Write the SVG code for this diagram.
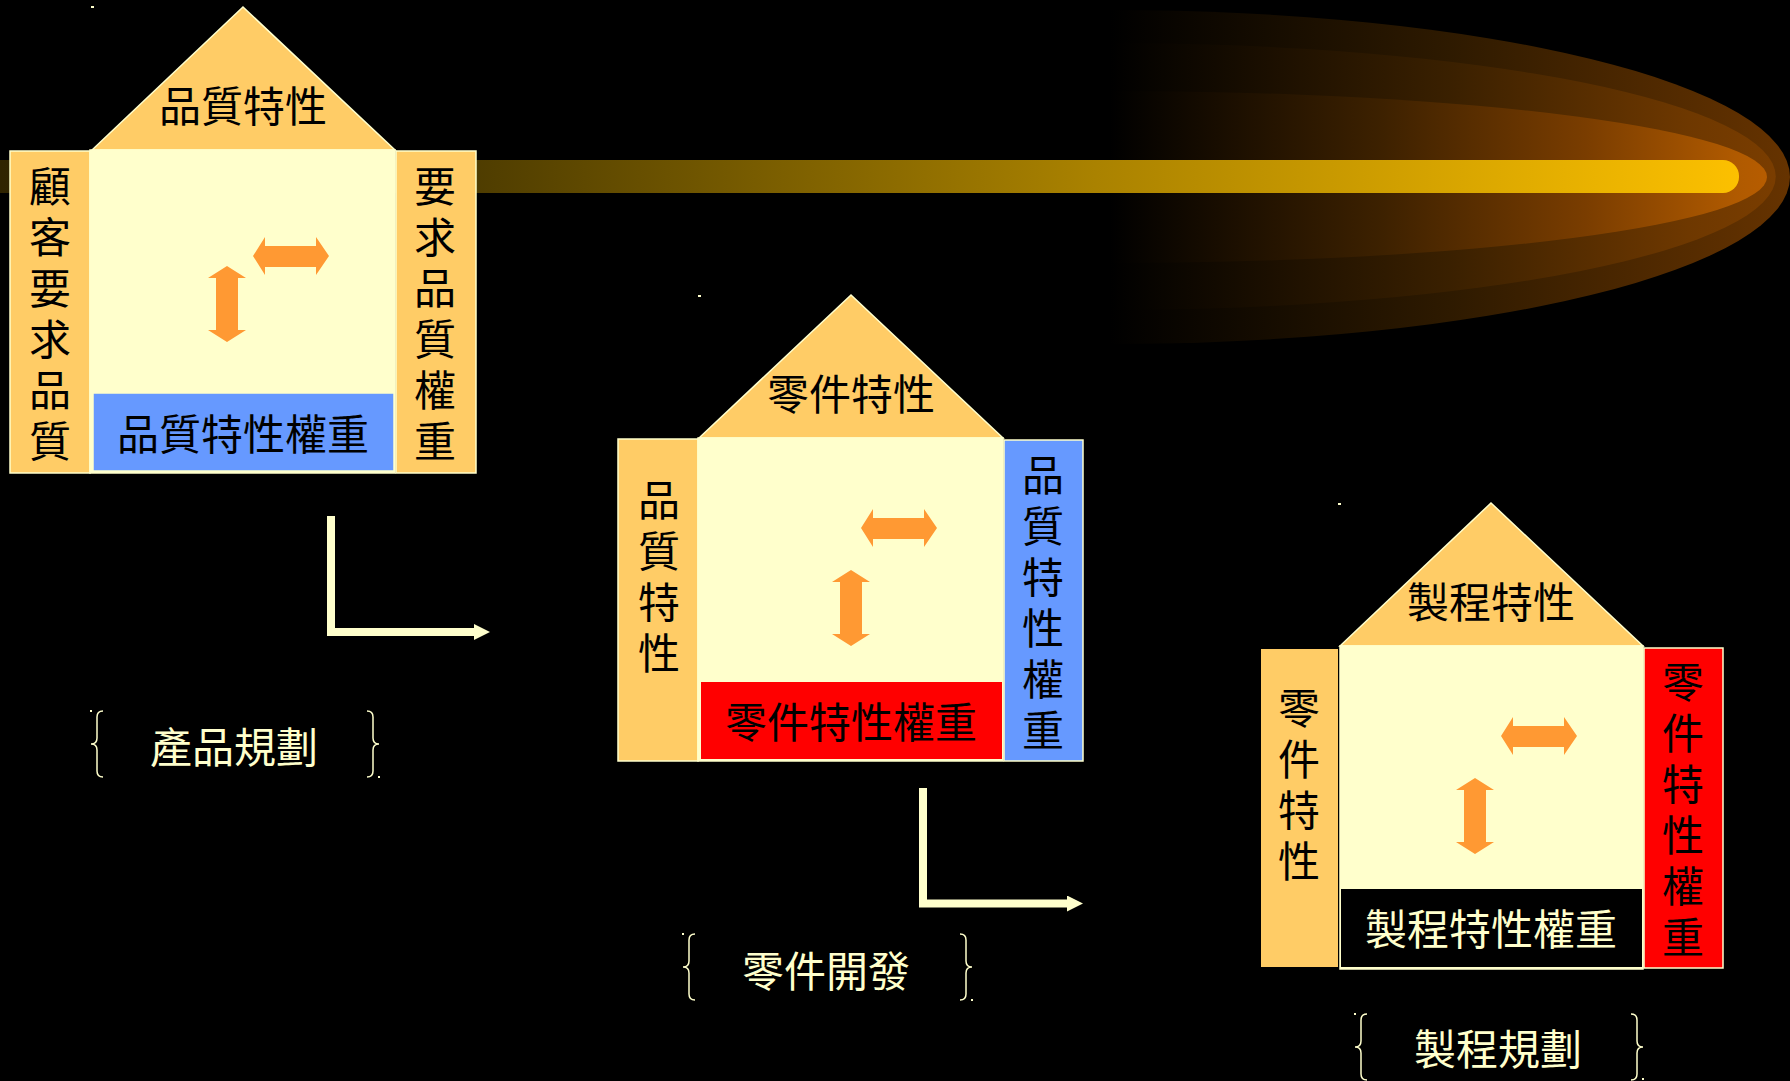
<svg xmlns="http://www.w3.org/2000/svg" xmlns:xlink="http://www.w3.org/1999/xlink" width="1790" height="1081" viewBox="0 0 1790 1081">
  <style>
    .roof, .side { fill: #FFCC66; stroke: #FFFFCC; stroke-width: 1.5; }
    .side-plain { fill: #FFCC66; }
    .core { fill: #FFFFCC; stroke: #FFFFCC; stroke-width: 1.5; }
    .blue { fill: #6699FF; stroke: #FFFFCC; stroke-width: 1.5; }
    .red { fill: #FF0000; }
    .red-col { fill: #FF0000; stroke: #FFFFCC; stroke-width: 1.5; }
    .dark { fill: #000000; }
    .t { font-family: "Noto Sans CJK TC", "Noto Sans CJK SC", sans-serif; font-size: 42px; text-anchor: middle; dominant-baseline: central; fill: #000000; }
    .v { writing-mode: vertical-rl; text-anchor: start; letter-spacing: 9px; }
    .lt { fill: #FFFFCC; }
    .dbl { fill: #FF9933; }
    .brace { fill: none; stroke: #FFFFCC; stroke-width: 1.5; }
    .flow { fill: none; stroke: #FFFFCC; stroke-width: 8; stroke-linejoin: miter; }
    .dot { fill: #FFFFCC; }
  </style>
  <defs>
    <linearGradient id="glowOuter" gradientUnits="userSpaceOnUse" x1="1110" y1="0" x2="1790" y2="0">
      <stop offset="0" stop-color="#000000"/>
      <stop offset="0.5" stop-color="#2e1a00"/>
      <stop offset="1" stop-color="#663300"/>
    </linearGradient>
    <linearGradient id="glowMid" gradientUnits="userSpaceOnUse" x1="1110" y1="0" x2="1790" y2="0">
      <stop offset="0" stop-color="#000000"/>
      <stop offset="0.5" stop-color="#3a2000"/>
      <stop offset="0.85" stop-color="#6e3800"/>
      <stop offset="1" stop-color="#7c3e00"/>
    </linearGradient>
    <linearGradient id="glowInner" gradientUnits="userSpaceOnUse" x1="1110" y1="0" x2="1790" y2="0">
      <stop offset="0" stop-color="#000000"/>
      <stop offset="0.4" stop-color="#3d2100"/>
      <stop offset="0.7" stop-color="#7a3d00"/>
      <stop offset="0.92" stop-color="#b05a00"/>
      <stop offset="1" stop-color="#bb5e00"/>
    </linearGradient>
    <linearGradient id="beam" gradientUnits="userSpaceOnUse" x1="0" y1="0" x2="1739" y2="0">
      <stop offset="0" stop-color="#302400"/>
      <stop offset="0.27" stop-color="#4e3c00"/>
      <stop offset="0.63" stop-color="#aa8200"/>
      <stop offset="0.9" stop-color="#e6b000"/>
      <stop offset="1" stop-color="#fcc000"/>
    </linearGradient>
    <!-- double-headed arrows inside each house -->
    <polygon id="harrow" class="dbl" points="0,19 12,0 12,9 63,9 63,0 76,19 63,38 63,30 12,30 12,38"/>
    <polygon id="varrow" class="dbl" points="19,0 38,12 30,12 30,64 38,64 19,76 0,64 8,64 8,12 0,12"/>
    <!-- curly braces around stage labels -->
    <path id="braceL" class="brace" d="M12,0 Q6,0 6,6 L6,27 Q6,33 0,33 Q6,33 6,39 L6,60 Q6,66 12,66"/>
    <path id="braceR" class="brace" d="M0,0 Q6,0 6,6 L6,27 Q6,33 12,33 Q6,33 6,39 L6,60 Q6,66 0,66"/>
    <marker id="head" markerUnits="userSpaceOnUse" markerWidth="16" markerHeight="16" viewBox="0 0 16 16" refX="2" refY="8" orient="auto">
      <path d="M0,0 L16,8 L0,16 Z" fill="#FFFFCC"/>
    </marker>
  </defs>

  <rect width="1790" height="1081" fill="#000000"/>

  <!-- comet glow and beam -->
  <g id="comet">
    <path d="M1110,10 A680,167 0 0 1 1110,344 Z" fill="url(#glowOuter)"/>
    <path d="M1110,43 A666,133.5 0 0 1 1110,310 Z" fill="url(#glowMid)"/>
    <path d="M1110,91 A657,86 0 0 1 1110,263 Z" fill="url(#glowInner)"/>
    <rect x="-20" y="160" width="1759" height="33" rx="16" fill="url(#beam)"/>
  </g>

  <!-- house 1: product planning -->
  <g id="house-product">
    <polygon class="roof" points="92,150 243,7 395,150"/>
    <rect class="side" x="10" y="151" width="80" height="322"/>
    <rect class="core" x="90" y="150" width="305" height="323"/>
    <rect class="side" x="396" y="151" width="80" height="322"/>
    <rect class="blue" x="93" y="393" width="301" height="78" stroke="none"/>
    <use xlink:href="#harrow" x="253" y="237"/>
    <use xlink:href="#varrow" x="208" y="266"/>
    <text class="t" x="243" y="103">品質特性</text>
    <text class="t" x="243" y="431">品質特性權重</text>
    <text class="t v" x="50" y="165">顧客要求品質</text>
    <text class="t v" x="435" y="165">要求品質權重</text>
    <rect class="dot" x="91" y="6" width="3" height="2"/>
  </g>

  <!-- house 2: part deployment -->
  <g id="house-part">
    <polygon class="roof" points="699,438 851,295 1003,438"/>
    <rect class="side" x="618" y="439" width="80" height="322"/>
    <rect class="core" x="698" y="438" width="305" height="323"/>
    <rect class="blue" x="1004" y="440" width="79" height="321"/>
    <rect class="red" x="701" y="682" width="301" height="77"/>
    <use xlink:href="#harrow" x="861" y="509"/>
    <use xlink:href="#varrow" x="832" y="570"/>
    <text class="t" x="851" y="391">零件特性</text>
    <text class="t" x="851" y="719">零件特性權重</text>
    <text class="t v" x="659" y="479">品質特性</text>
    <text class="t v" x="1043" y="454">品質特性權重</text>
    <rect class="dot" x="698" y="295" width="3" height="2"/>
  </g>

  <!-- house 3: process planning -->
  <g id="house-process">
    <polygon class="roof" points="1340,646 1491,503 1643,646"/>
    <rect class="side-plain" x="1261" y="649" width="77" height="318"/>
    <rect class="core" x="1340" y="646" width="303" height="323"/>
    <rect class="red-col" x="1644" y="648" width="79" height="320"/>
    <rect class="dark" x="1341" y="889" width="301" height="78"/>
    <use xlink:href="#harrow" x="1501" y="717"/>
    <use xlink:href="#varrow" x="1456" y="778"/>
    <text class="t" x="1491" y="599">製程特性</text>
    <text class="t lt" x="1491" y="926">製程特性權重</text>
    <text class="t v" x="1299" y="687">零件特性</text>
    <text class="t v" x="1683" y="661">零件特性權重</text>
    <rect class="dot" x="1338" y="503" width="3" height="2"/>
  </g>

  <!-- flow between stages -->
  <g id="connectors">
    <path class="flow" d="M331,516 V632 H476" marker-end="url(#head)"/>
    <path class="flow" d="M923,788 V903.5 H1069" marker-end="url(#head)"/>
  </g>

  <!-- stage labels -->
  <g id="labels">
    <use xlink:href="#braceL" x="91" y="711"/>
    <use xlink:href="#braceR" x="367" y="711"/>
    <text class="t lt" x="234" y="744">產品規劃</text>
    <rect class="dot" x="90" y="710" width="2" height="2"/>
    <rect class="dot" x="378" y="776" width="2" height="2"/>

    <use xlink:href="#braceL" x="683" y="934"/>
    <use xlink:href="#braceR" x="960" y="934"/>
    <text class="t lt" x="826" y="968">零件開發</text>
    <rect class="dot" x="682" y="933" width="2" height="2"/>
    <rect class="dot" x="971" y="999" width="2" height="2"/>

    <use xlink:href="#braceL" x="1355" y="1014"/>
    <use xlink:href="#braceR" x="1631" y="1014"/>
    <text class="t lt" x="1498" y="1046">製程規劃</text>
    <rect class="dot" x="1354" y="1013" width="2" height="2"/>
    <rect class="dot" x="1642" y="1078" width="2" height="2"/>
  </g>
</svg>
